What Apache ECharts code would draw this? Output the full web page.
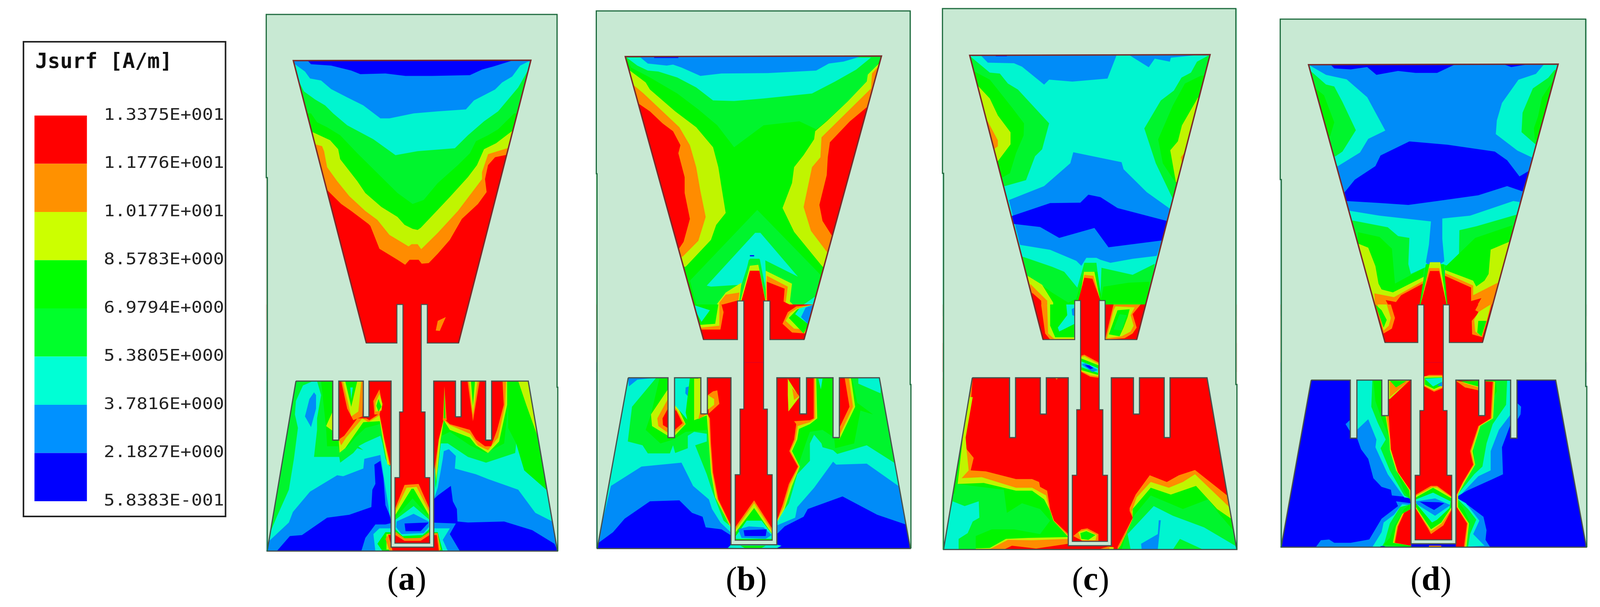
<!DOCTYPE html>
<html><head><meta charset="utf-8">
<style>html,body{margin:0;padding:0;background:#fff}#c{width:100vw;height:100vh}</style>
<script src="https://cdn.jsdelivr.net/npm/echarts@6/dist/echarts.min.js"></script>
</head><body><div id="c"></div>
<script>
// Level palette (index = contour level, from the legend, top to bottom)
const legendColors=['#ff0000','#ff9100','#ccff00','#00ff00','#00ff2b','#00ffd5','#0091ff','#0000ff'];
const fieldColors=['#ff0000','#ff8c00','#c0f500','#00f500','#00f52d','#00f5d0','#008cf8','#0000ff'];
const legendLabels=['1.3375E+001','1.1776E+001','1.0177E+001','8.5783E+000','6.9794E+000','5.3805E+000','3.7816E+000','2.1827E+000','5.8383E-001'];
const legendTitle='Jsurf [A/m]';
const captionLetters=['a','b','c','d'];

// Contours: [level, x,y, x,y, ...] per panel
const aUpper=[
[0,0,0,1568,0,1568,1568,0,1568],
[1,350,915,420,985,470,1020,555,1085,565,1095,610,1210,700,1265,738,1290,760,1265,805,1265,820,1285,855,1282,900,1235,960,1165,1020,1060,1100,985,1143,925,1135,860,1150,790,1185,750,1243,738,1500,738,1500,262,100,262,100,915],
[2,290,685,325,695,335,720,350,800,400,870,460,945,540,1020,600,1065,660,1140,755,1198,770,1187,800,1187,818,1212,900,1130,1000,1020,1120,860,1120,825,1150,735,1245,705,1500,705,1500,262,100,262,100,685],
[3,280,625,365,665,405,710,415,760,500,870,540,930,620,1000,700,1050,735,1090,775,1110,800,1115,815,1105,890,1025,960,950,1050,850,1095,790,1130,710,1190,680,1268,620,1500,620,1500,262,100,262,100,625],
[4,270,530,300,575,350,600,415,640,500,730,600,830,700,930,775,985,830,965,900,880,1000,790,1060,730,1090,670,1150,640,1200,610,1280,530,1500,530,1500,262,100,262,100,530],
[5,205,360,235,420,290,460,340,490,380,530,450,590,580,660,690,740,800,720,985,705,1050,640,1130,570,1200,520,1300,400,1345,320,1500,320,1500,262,100,262,100,360],
[6,185,280,240,320,265,355,320,365,370,408,450,450,530,490,615,555,660,555,780,530,900,520,1040,510,1080,465,1185,410,1220,375,1270,345,1310,290,1350,270,1500,270,1500,262,100,262,100,280],
[7,250,262,270,283,370,290,470,315,515,333,640,330,740,342,870,342,1060,338,1120,310,1175,295,1280,262]];
const aMiddle=[[0,0,0,1568,0,1568,350,0,350],[1,890,135,900,85,940,65,910,137]];
const aLower=[
[7,0,350,1568,350,1568,1568,0,1568],
[6,520,1278,540,1210,590,1140,640,1140,680,1130,860,1130,990,1135,960,1190,1010,1278],
[5,590,1278,580,1190,610,1160,960,1160,925,1220,950,1278],
[3,625,1278,600,1240,640,1180,900,1180,925,1278],
[2,645,1270,645,1190,900,1190,915,1270],
[1,660,1278,640,1215,655,1190,900,1185,912,1278],
[0,675,1275,655,1195,895,1195,905,1275],
[6,40,1290,100,1278,165,1200,225,1195,350,1105,460,1090,570,1050,575,960,590,930,585,830,615,810,630,900,640,1040,668,1110,668,397,40,397],
[5,40,1240,160,1130,180,1075,265,970,400,885,430,890,530,850,535,800,615,780,640,950,660,1080,668,1130,668,397,40,397],
[4,52,1278,60,1200,100,1100,160,960,185,800,205,640,190,570,195,500,230,420,280,397,195,397,40,397],
[6,240,580,270,635,295,540,295,470,285,455,262,490],
[4,300,397,320,470,300,590,300,650,285,790,410,790,415,820,480,770,500,745,530,755,505,735,540,715,615,680,625,720,640,800,660,840,668,830,668,397],
[3,320,397,345,640,350,735,405,735,410,765,450,740,490,690,540,640,612,620,625,680,640,750,660,830,668,800,668,397],
[2,345,630,375,560,378,655],
[2,408,710,412,768,440,745,530,610,612,605,625,690,650,830,668,830,668,397,408,397],
[1,408,700,420,730,445,690,525,590,555,610,610,575,632,700,660,835,668,830,668,397,408,397],
[0,408,700,435,680,500,590,545,590,560,600,610,565,635,700,664,830,668,397,408,397],
[1,420,397,450,540,480,600,525,580,530,397],
[2,428,397,470,580,505,555,520,397],
[3,440,397,470,530,500,397],
[5,465,430,470,490,478,430],
[1,610,440,580,500,585,570,610,570,625,520],
[2,610,465,590,510,590,555,620,550,625,515],
[3,605,490,595,525,605,555,620,530],
[6,880,1010,900,990,965,940,975,1020,995,1060,998,1125,1050,1130,1230,1125,1370,1170,1480,1240,1500,1278,1568,1278,1568,397,880,397],
[5,880,1010,900,950,925,800,930,760,955,750,990,785,985,850,1090,880,1150,905,1300,960,1385,1080,1470,1125,1500,1130,1500,397,880,397],
[4,890,960,900,860,915,720,950,720,1050,790,1140,820,1285,770,1290,720,1330,860,1440,960,1500,960,1500,397,880,397],
[3,888,950,900,850,920,680,960,660,1060,730,1140,770,1230,720,1250,520,1250,397,880,397],
[3,1250,397,1300,397,1390,660,1440,960,1330,860,1290,720,1250,640],
[2,1300,397,1350,397,1395,680,1340,520],
[2,892,920,915,700,930,600,960,650,1060,690,1090,730,1150,770,1205,710,1245,520,1245,397,880,397],
[1,888,900,905,700,930,600,960,625,1060,670,1100,730,1150,755,1200,690,1235,520,1240,397,880,397],
[0,880,880,905,700,930,590,960,620,1060,650,1090,700,1135,735,1165,735,1195,650,1228,520,1222,397,880,397],
[1,925,600,933,425,945,600],[3,930,590,933,445,938,590],
[1,1048,397,1075,605,1108,397],[2,1055,397,1075,570,1098,397],[3,1065,397,1075,525,1085,397],
[0,687,300,860,300,860,1237,687,1237],
[1,687,1060,735,935,805,930,860,1060,860,1237,687,1237],
[2,690,1070,745,950,795,945,858,1075,860,1237,687,1237],
[3,690,1090,770,955,780,955,855,1090,860,1237,687,1237],
[4,690,1105,775,1005,855,1100,860,1237,687,1237],
[5,690,1115,780,1045,858,1115,860,1237,687,1237],
[6,695,1125,780,1085,855,1125,860,1237,687,1237],
[7,735,1135,855,1130,815,1175,740,1175],
[5,690,1150,720,1190,830,1185,858,1150,860,1237,687,1237],
[3,690,1165,725,1200,825,1195,858,1165,860,1237,687,1237],
[1,690,1178,735,1212,815,1210,858,1180,860,1237,687,1237],
[0,690,1195,735,1225,815,1225,858,1195,860,1237,687,1237]];

const bUpper=[
[3,0,0,1568,0,1568,1568,0,1568],
[4,185,245,210,300,300,350,430,430,530,510,620,590,700,700,840,590,1010,570,1090,610,1135,570,1240,470,1330,380,1400,245],
[2,205,315,280,375,300,410,420,520,520,600,600,700,625,800,640,900,660,1030,615,1090,590,1165,470,1300,100,1300,100,315],
[1,225,390,270,430,360,520,440,600,490,690,520,800,540,920,565,1050,530,1170,455,1250,100,1250,100,390],
[0,245,480,300,520,360,580,410,620,445,690,435,730,465,850,465,930,490,1060,460,1175,438,1210,100,1210,100,480],
[2,1388,280,1335,335,1330,370,1240,470,1140,570,1085,620,1080,660,1030,740,985,800,975,880,930,1005,985,1125,1120,1300,1500,1300,1500,280],
[1,1380,300,1355,330,1350,405,1240,520,1115,650,1110,750,1070,800,1050,900,1030,1000,1065,1120,1140,1225,1500,1225,1500,300],
[0,1335,495,1250,570,1155,675,1145,750,1140,840,1105,990,1120,1070,1165,1145,1500,1145,1500,495],
[5,190,250,240,290,290,315,340,320,430,350,520,400,600,465,700,468,840,455,1070,430,1180,370,1280,310,1350,250],
[6,250,245,290,280,380,290,410,285,450,300,540,342,640,330,860,328,1090,315,1150,280,1220,270,1300,245],
[7,320,247,435,247,435,252,320,252],
[4,490,1370,810,1015,1110,1340,1060,1568,540,1568],
[5,570,1395,800,1130,825,1130,1003,1350,848,1268,855,1470,820,1260,775,1260,735,1390,590,1400],
[7,775,1242,795,1242,795,1248,775,1248],
[4,770,1265,822,1262,860,1470,860,1568,725,1568,725,1470],
[2,620,1485,660,1430,735,1380,725,1470,640,1568,620,1568],
[1,630,1480,660,1440,725,1430,720,1470,645,1568,635,1568],
[0,645,1490,715,1470,716,1568,645,1568],
[4,850,1320,975,1385,1000,1500,960,1568,850,1568],
[2,850,1320,975,1385,965,1475,995,1505,960,1568,850,1568],
[1,855,1345,955,1400,945,1480,995,1505,960,1568,850,1568],
[0,855,1375,940,1410,935,1475,990,1505,950,1568,860,1568],
[5,1085,1450,1010,1505,1040,1568,1060,1568],
[2,775,1295,815,1290,850,1470,850,1568,730,1568,730,1470],
[0,775,1320,820,1320,848,1470,848,1568,735,1568,735,1470]];
const bMiddle=[[0,0,0,1568,0,1568,350,0,350],
[1,500,0,640,0,650,40,635,130,548,130,500,130],
[2,500,0,630,0,630,110,545,120,500,120],
[3,500,0,625,0,610,100,545,105,500,105],
[5,500,0,585,30,545,90],
[1,1035,150,975,145,930,100,955,40,995,10,1080,0,1080,150],
[2,1035,130,985,125,945,85,965,45,1000,20,1080,0,1080,130],
[3,1030,150,960,70,1000,25,1080,0,1050,110],
[5,990,50,1010,20,1080,0,1050,100],
[6,1018,65,1040,15,1080,0,1050,100]];
const bLower=[
[7,0,300,1568,300,1568,1568,0,1568],
[6,50,1240,125,1180,180,1110,300,1020,440,1015,500,1080,550,1100,565,1155,640,1165,683,1195,683,380,50,380],
[5,80,1100,115,940,260,840,450,820,505,940,580,1010,595,1060,635,1130,683,1180,683,380,50,380],
[6,197,380,200,425,240,390,330,380],
[4,330,380,215,530,195,710,265,730,290,772,395,772,410,730,420,770,480,745,480,680,510,660,570,670,570,710,515,730,570,880,600,980,650,1120,683,1150,683,380],
[3,345,385,305,570,280,650,350,720,410,700,470,660,570,650,600,830,650,1090,683,1145,683,380],
[2,385,440,305,570,310,630,385,680,418,680,470,620,425,515,385,515],
[1,385,490,335,590,340,630,385,665,418,665,465,620,425,540,385,540],
[0,385,540,360,590,362,625,385,640,418,650,455,615,425,550],
[5,417,380,495,380,500,560,480,600,417,520],[6,470,430,485,425,480,475,468,460],
[3,490,380,510,380,510,590,480,610,470,560],
[2,510,385,530,385,540,567,510,600,510,500],
[0,530,385,542,385,542,567,530,567],
[2,510,600,570,575,580,720,590,870,610,1000,683,1155,685,380,530,380],
[1,530,595,573,567,580,590,585,720,595,870,620,1010,683,1150,685,380,573,380],
[0,573,380,573,567,585,590,590,720,600,870,625,1010,683,1140,685,380],
[1,600,450,620,445,630,515,580,565,575,470],[2,575,470,605,490,605,520,575,545],
[6,903,1190,940,1150,1030,1100,1050,1060,1215,995,1380,1090,1515,1140,1545,1265,1545,380,903,380],
[5,903,1145,990,1105,1000,1050,1080,950,1170,815,1185,830,1330,825,1480,940,1545,1000,1545,380,903,380],
[4,903,1120,960,1030,1000,880,1060,810,1060,720,1080,675,1115,720,1120,740,1170,755,1190,775,1330,730,1460,820,1545,820,1545,380,903,380],
[3,903,1090,970,960,1000,850,1040,720,1060,660,1120,650,1175,690,1180,745,1270,720,1300,550,1360,570,1285,510,1260,380,903,380],
[5,1290,380,1290,410,1395,460,1400,380],
[5,1100,385,1120,385,1112,440],
[2,903,1130,940,1060,975,940,1012,840,975,760,1000,700,1008,645,1060,620,1095,590,1090,380,903,380],
[1,903,1125,935,1050,965,935,1008,840,968,760,992,700,1002,630,1060,610,1085,590,1085,380,903,380],
[0,903,1120,930,1040,960,930,1003,840,962,760,985,700,995,620,985,605,1060,600,1078,590,1078,380,903,380],
[2,955,385,1010,480,958,555,955,470],[1,965,420,1010,475,985,495,975,430],
[2,1200,380,1255,380,1275,530,1200,700],[1,1200,380,1245,380,1265,530,1200,680],[0,1200,380,1225,380,1248,530,1200,640],
[0,705,300,881,300,881,1222,705,1222],
[1,705,1155,795,1015,880,1160,880,1222,705,1222],
[2,705,1170,795,1030,880,1175,880,1222,705,1222],
[3,708,1180,795,1055,880,1190,880,1222,705,1222],
[5,708,1200,760,1120,830,1120,880,1190,880,1215,708,1215],
[6,720,1165,770,1150,840,1155,878,1195,850,1215,735,1210],
[7,745,1170,855,1165,850,1200,750,1200],
[5,670,1262,685,1245,903,1245,925,1250,900,1265],
[3,730,1250,850,1250,830,1262,750,1262]];

const cUpper=[
[5,0,0,1568,0,1568,1568,0,1568],
[6,245,258,280,295,410,298,450,315,560,405,585,380,700,390,875,375,920,258],
[6,985,258,1080,318,1110,275,1185,290,1190,270,1310,258],
[7,320,258,375,258,375,263,320,263],
[4,195,265,290,345,340,350,380,400,430,430,585,600,550,730,515,765,470,885,365,915,100,915,100,265],
[3,215,340,290,380,400,520,460,600,458,660,420,750,390,850,355,870,100,870,100,340],
[2,230,410,290,475,330,560,393,645,393,705,330,790,100,790,100,410],
[1,280,590,330,685,330,715,310,730,100,730,100,590],
[4,1375,260,1320,290,1290,345,1243,370,1205,435,1140,485,1058,625,1115,800,1200,980,1500,980,1500,260],
[3,1340,360,1260,400,1200,510,1127,680,1150,800,1215,900,1500,900,1500,360],
[2,1325,470,1245,610,1225,690,1187,735,1215,895,1500,895,1500,470],
[1,1255,750,1240,770,1245,800,1500,800,1500,750],
[6,385,985,560,915,690,800,705,745,945,795,955,830,1070,945,1185,1028,1145,1190,1120,1265,1000,1280,890,1300,840,1285,820,1275,770,1275,745,1315,720,1290,590,1235,440,1210],
[7,400,1065,590,1000,740,998,780,958,840,970,925,1025,1170,1090,1145,1188,880,1222,810,1125,635,1175,540,1120,410,1105],
[4,450,1268,600,1320,660,1345,725,1425,760,1300,820,1300,840,1470,845,1325,1000,1360,1110,1305,1070,1568,520,1568],
[3,490,1370,600,1450,680,1500,720,1480,758,1345,825,1345,845,1480,855,1420,980,1400,1085,1395,1060,1568,530,1568],
[2,478,1365,550,1410,605,1500,605,1568,500,1568],
[1,490,1405,575,1490,578,1568,500,1568],
[0,500,1450,545,1490,550,1568,500,1568],
[2,758,1345,810,1345,835,1470,840,1568,735,1568,735,1490],
[1,760,1360,805,1365,835,1470,840,1568,732,1568,732,1490],
[0,760,1375,800,1380,840,1490,840,1568,730,1568,730,1490]];
const cMiddle=[[0,0,0,1568,0,1568,350,0,350],
[1,545,0,712,0,712,182,590,182,565,150],
[2,575,0,712,0,712,178,610,178,580,150],
[3,590,0,712,0,712,170,615,170,590,110],
[5,670,0,712,0,712,100,635,140,628,120,675,55],
[6,697,25,712,15,712,60,700,55],
[1,863,182,905,0,1040,0,1000,50,1020,120,1000,150,960,175],
[2,872,175,905,30,915,10,1010,15,990,55,1005,110,990,140,945,165],
[3,882,155,925,30,985,25,975,65,955,120,935,165],
[4,905,130,935,50,970,55,945,135]];
const cLower=[
[0,0,200,1568,200,1568,1568,0,1568],
[1,205,380,195,520,165,680,175,750,210,795,195,860,270,865,420,905,500,905,535,920,540,945,575,965,590,1060,610,1120,680,1190,680,1240,520,1265,400,1250,360,1270,50,1270,50,380],
[2,205,480,170,690,175,760,185,860,150,900,250,895,420,950,500,950,570,990,585,1060,600,1115,680,1200,680,1215,500,1222,380,1220,290,1268,50,1270,50,480],
[3,155,700,130,930,260,925,420,965,500,965,560,1010,590,1070,605,1120,680,1205,480,1210,370,1215,290,1262,50,1270,50,700],
[4,115,980,125,930,360,960,375,1080,450,1030,540,1060,590,1120,540,1190,410,1165,300,1165,220,1200,220,1270,50,1270,50,980],
[5,105,1020,165,1045,235,1020,238,1105,205,1125,180,1185,135,1215,135,1270,50,1270],
[1,925,1258,1000,1105,985,1070,985,1055,1015,985,1085,885,1170,920,1230,885,1310,858,1470,990,1530,1040,1530,1280,925,1280],
[2,935,1258,1005,1110,995,1075,1020,1000,1090,920,1180,950,1250,920,1310,880,1480,1050,1530,1100,1530,1280,935,1280],
[3,940,1250,1000,1120,1000,1060,1090,950,1190,985,1315,940,1420,1060,1490,1110,1530,1150,1530,1280,925,1270],
[4,975,1170,1010,1090,1090,990,1250,1060,1375,1010,1430,1085,1500,1170,1530,1170,1530,1280,945,1270],
[5,975,1190,1105,1045,1200,1095,1355,1155,1510,1250,1530,1270,1350,1270,1235,1215,1200,1270,990,1270],
[6,1042,1240,1125,1190,1130,1118,1140,1118,1125,1270,1045,1270],
[1,840,1265,880,1255,905,1258,905,1270],
[2,885,1258,905,1258,905,1270,885,1270],
[1,615,380,630,380,622,390],
[1,745,265,760,260,830,300,830,380,790,375,745,350],
[2,745,272,760,268,830,308,830,372,790,367,745,345],
[3,745,280,830,315,828,365,745,340],
[5,745,295,828,330,828,355,745,325],
[6,745,310,765,305,828,340,800,350],
[7,762,315,785,315,805,330,790,335],
[1,705,1200,745,1165,775,1160,830,1190,830,1225,750,1225],
[2,730,1180,770,1168,822,1195,815,1222,745,1222],
[3,740,1185,770,1175,815,1195,780,1220,745,1215]];

const dUpper=[
[6,0,0,1568,0,1568,1568,0,1568],
[7,280,270,300,292,380,297,460,285,505,325,610,305,695,315,800,315,890,270],
[7,1115,268,1160,285,1260,268],
[5,178,275,260,325,360,348,460,440,548,612,465,655,425,725,318,795,100,795,100,275],
[4,185,305,260,375,300,385,340,465,405,610,340,720,305,745,100,745,100,305],
[3,215,400,250,430,300,570,280,640,100,640,100,400],
[5,1320,270,1280,320,1195,350,1115,470,1090,560,1085,630,1190,715,1260,750,1500,750,1500,270],
[4,1370,300,1340,340,1265,395,1215,520,1210,620,1280,685,1500,685,1500,300],
[3,1372,340,1310,440,1290,540,1270,600,1275,660,1500,660,1500,340],
[7,350,930,400,865,500,795,525,740,665,668,850,685,1080,720,1140,765,1200,848,1245,820,1215,925,1140,898,1000,945,800,975,660,995,520,985,360,975],
[5,375,1025,520,1050,770,1080,760,1200,745,1290,755,1305,720,1400,500,1568,400,1568,300,1025],
[5,825,1065,960,1050,1170,975,1200,980,1150,1568,860,1568,840,1330,815,1300,835,1285,825,1170],
[4,388,1075,560,1110,610,1155,665,1165,660,1300,672,1350,755,1310,720,1400,500,1568,400,1568],
[3,415,1135,520,1160,580,1220,595,1400,735,1320,725,1568,400,1568],
[2,418,1195,465,1215,500,1310,515,1400,530,1430,585,1445,735,1365,725,1568,400,1568],
[1,495,1450,590,1470,735,1385,720,1568,500,1568],
[0,550,1485,600,1495,625,1460,730,1400,720,1568,590,1568],
[4,908,1125,990,1105,1185,1045,1160,1568,860,1568,838,1340,830,1300,905,1330],
[3,985,1165,1165,1100,1150,1568,850,1568,838,1315],
[2,1150,1185,1060,1225,1050,1350,1030,1385,990,1415,975,1385,838,1330,838,1568,1150,1568],
[1,838,1345,975,1410,975,1460,1095,1395,1080,1568,838,1568],
[0,838,1360,965,1420,965,1490,1015,1475,985,1530,1000,1545,985,1568,838,1568],
[3,745,1300,832,1300,850,1505,850,1568,715,1568,715,1505],
[2,765,1290,815,1290,845,1500,845,1568,720,1568,720,1505],
[1,760,1320,810,1320,845,1500,845,1568,720,1568,720,1505],
[0,765,1335,810,1335,845,1505,845,1568,720,1568,720,1505]];
const dMiddle=[[0,0,0,1568,0,1568,350,0,350],
[1,500,0,575,0,595,70,580,125,540,150],
[2,510,0,555,0,575,70,565,110,540,135],
[3,500,0,530,30,555,80,540,120],
[1,1000,0,985,30,1003,40,968,85,970,155,1020,170,1065,0],
[2,1060,0,1000,40,980,80,985,140,1015,165,1040,90],
[3,1000,85,1040,85,1015,165,995,145]];
const dLower=[
[7,0,300,1568,300,1568,1568,0,1568],
[6,355,620,375,600,378,660],
[6,410,392,410,690,430,750,465,800,490,900,530,945,575,960,580,990,673,1000,673,1030,600,1020,610,1045,530,1110,470,1218,380,1235,300,1235,275,1218,235,1222,210,1258,673,1258,673,392],
[5,410,392,410,650,465,595,505,700,500,740,560,880,640,1000,673,1005,673,1040,630,1035,590,1090,540,1130,530,1180,485,1258,673,1258,673,392],
[4,485,392,480,530,510,610,550,700,525,745,570,860,640,990,673,1010,673,1035,620,1050,570,1135,545,1230,530,1258,673,1258,673,392],
[3,490,392,500,500,530,590,570,700,570,730,590,830,640,970,673,1015,673,1030,640,1060,590,1150,570,1210,540,1245,673,1258,673,392],
[2,548,570,568,700,570,755,600,860,665,965,673,1060,630,1085,600,1150,585,1235,673,1250,673,392,565,392],
[1,552,575,572,700,574,752,606,866,668,965,672,1060,635,1082,605,1150,590,1235,673,1250,673,392,565,392],
[0,565,580,575,750,610,870,672,965,672,1060,640,1080,610,1150,595,1235,673,1250,673,392,560,392],
[2,565,392,668,392,570,490,565,490],[1,570,400,665,395,570,480],[3,570,395,650,397,600,430],
[6,891,392,1188,392,1188,510,1208,530,1205,570,1188,600,1157,620,1115,740,1120,880,1070,905,945,965,891,1000,920,1025,950,1040,1025,1100,1040,1170,1035,1220,1058,1258,891,1258],
[5,891,392,1157,392,1157,570,1100,650,1060,760,1060,860,1000,890,920,980,891,1000,940,1030,1005,1120,975,1190,1030,1250,891,1258],
[4,891,392,1140,392,1135,520,1070,620,1040,720,1020,840,980,880,900,985,891,1000,950,1060,990,1115,960,1190,950,1258,891,1258],
[3,891,392,1085,392,1090,450,1000,630,975,740,985,830,930,930,897,985,891,1005,930,1060,960,1130,940,1258,891,1258],
[2,891,392,1082,400,1072,590,1010,630,972,760,985,830,932,925,902,985,902,1050,955,1135,942,1258,891,1258],
[1,891,392,1076,400,1066,590,1005,630,966,760,980,830,928,922,898,985,898,1050,950,1135,936,1258,891,1258],
[0,891,392,1070,400,1060,590,1000,630,960,760,975,830,925,920,895,985,895,1050,945,1135,930,1258,891,1258],
[2,891,395,1002,420,1002,445,930,425],[1,893,395,1002,430,1002,445,935,430],[3,915,397,1000,397,1000,425,950,410],
[1,760,1250,820,1250,820,1258,760,1258],
[7,525,1252,545,1252,545,1258,525,1258],
[0,693,300,871,300,871,1220,693,1220],
[1,737,375,760,365,825,365,825,435,785,452,737,425],
[2,737,372,825,372,825,428,785,445,737,420],
[3,740,380,825,378,825,420,785,438,740,415],
[5,740,385,780,425,825,400,825,380],
[6,800,420,825,400,825,425],
[1,697,985,770,940,800,940,870,995,870,1065,830,1145,770,1190,755,1160,697,1060],
[2,697,992,775,948,800,948,870,1000,870,1058,822,1135,770,1175,697,1055],
[3,697,1000,780,950,870,1005,870,1050,820,1130,770,1165,697,1050],
[5,697,1010,780,975,865,1020,860,1055,800,1115,775,1130,697,1030],
[6,697,1020,790,1005,865,1040,790,1095,700,1035],
[7,715,1022,810,1025,835,1030,785,1065,750,1045]];

// Metal outlines, upper-crop corners and lower-crop vertices
const aCorners=[182,265,1363,263];
const aFeed=[1003,200,848,200,848,0,818,0,818,557,837,557,837,897,860,897,860,1237,687,1237,687,897,710,897,710,557,727,557,727,0,697,0,697,200,545,200];
const aGround=[195,397,378,397,378,703,408,703,408,397,530,397,530,582,558,582,558,397,668,397,668,1258,880,1258,880,397,988,397,988,582,1016,582,1016,397,1138,397,1138,703,1168,703,1168,397,1350,397,1495,1278,52,1278];
const bCorners=[183,245,1400,242];
const bFeed=[1032,182,870,182,870,-18,840,-18,840,542,858,542,858,882,881,882,881,1222,705,1222,705,882,728,882,728,542,746,542,746,-18,716,-18,716,182,555,182];
const bGround=[197,380,386,380,386,690,417,690,417,380,542,380,542,567,573,567,573,380,685,380,685,1245,903,1245,903,380,1012,380,1012,567,1044,567,1044,380,1170,380,1170,690,1200,690,1200,380,1390,380,1537,1265,50,1265];
const cCorners=[190,258,1385,255];
const cFeed=[1020,182,863,182,863,-20,834,-20,834,545,852,545,852,885,875,885,875,1228,700,1228,700,885,722,885,722,545,741,545,741,-20,712,-20,712,182,555,182];
const cGround=[203,380,388,380,388,690,418,690,418,380,541,380,541,568,571,568,571,380,680,380,680,1250,894,1250,894,380,1004,380,1004,568,1034,568,1034,380,1157,380,1157,690,1186,690,1186,380,1370,380,1518,1270,60,1270];
const dCorners=[175,273,1388,270];
const dFeed=[1020,197,859,197,859,2,830,2,830,550,848,550,848,885,871,885,871,1220,693,1220,693,885,716,885,716,550,735,550,735,2,706,2,706,197,547,197];
const dGround=[188,392,378,392,378,693,410,693,410,392,531,392,531,576,563,576,563,392,673,392,673,1240,891,1240,891,392,1002,392,1002,576,1032,576,1032,392,1157,392,1157,693,1188,693,1188,392,1376,392,1525,1258,42,1258];

// Reading frames of each panel: crop origin + magnification, and board extents in image pixels
const frames=[
 {x0:700,fx:1.823,y1:20,fy1:1.96,fy2:2.023,L:726,R:1519,T:37,B:1412,jogY1:455,jogY2:992,dl:3,dr:2},
 {x0:1600,fx:1.742,y1:20,fy1:1.96,fy2:2.023,L:1626,R:2482,T:28,B:1405,jogY1:445,jogY2:985,dl:2,dr:2},
 {x0:2540,fx:1.823,y1:10,fy1:1.96,fy2:2.023,L:2570,R:3370,T:22,B:1408,jogY1:444,jogY2:985,dl:3,dr:3},
 {x0:3470,fx:1.782,y1:30,fy1:2.01,fy2:2.023,L:3491,R:4324,T:49,B:1402,jogY1:460,jogY2:990,dl:3,dr:3}];
const panels=[
 {u:aUpper,m:aMiddle,l:aLower,corners:aCorners,feed:aFeed,ground:aGround},
 {u:bUpper,m:bMiddle,l:bLower,corners:bCorners,feed:bFeed,ground:bGround},
 {u:cUpper,m:cMiddle,l:cLower,corners:cCorners,feed:cFeed,ground:cGround},
 {u:dUpper,m:dMiddle,l:dLower,corners:dCorners,feed:dFeed,ground:dGround}];
const captionX=[1109,2035,2974,3902], captionY=1489;
const boardColor='#c8e9d3', boardEdge='#1e6b3e', metalEdge='#46504c', patchEdge='#7a2a2a';

function toPts(f,flat,crop){
  const out=[];
  for(let i=0;i<flat.length;i+=2){
    const x=f.x0+flat[i]/f.fx;
    const y=crop===1? f.y1+flat[i+1]/f.fy1 : 780+flat[i+1]/f.fy2;
    out.push([x,y]);
  }
  return out;
}
function clampPts(f,pts){return pts.map(p=>[Math.min(f.R+f.dr,Math.max(f.L,p[0])),Math.min(f.B,Math.max(f.T,p[1]))]);}
function area(p){let a=0;for(let i=0;i<p.length;i++){const q=p[(i+1)%p.length];a+=p[i][0]*q[1]-q[0]*p[i][1];}return a;}
function oriented(p,positive){return (area(p)>0)===positive?p:p.slice().reverse();}

const marks=[];
panels.forEach((p,i)=>{
  const f=frames[i];
  const board=[[f.L,f.T],[f.R+f.dr,f.T],[f.R+f.dr,f.B],[f.L,f.B]];
  marks.push({k:'polygon',pts:board,fill:boardColor});
  const add=(arr,crop)=>arr.forEach(r=>marks.push({k:'polygon',pts:clampPts(f,toPts(f,r.slice(1),crop)),fill:fieldColors[r[0]]}));
  add(p.u,1);add(p.m,2);add(p.l,2);
  const corners=toPts(f,p.corners,1), feed=toPts(f,p.feed,2), ground=toPts(f,p.ground,2);
  const top=corners.concat(feed);
  const outer=oriented(board,true), h1=oriented(top,false), h2=oriented(ground,false);
  const key=[outer[0]].concat(h1,[h1[0]],h2,[h2[0]],[h1[0]],[outer[0]],outer.slice(1));
  marks.push({k:'polygon',pts:key,fill:boardColor});
  marks.push({k:'polyline',pts:top.concat([top[0]]),stroke:metalEdge,w:2.5});
  marks.push({k:'polyline',pts:ground.concat([ground[0]]),stroke:metalEdge,w:3});
  marks.push({k:'polyline',pts:[top[top.length-1],top[0],top[1],top[2]],stroke:patchEdge,w:3.5});
  marks.push({k:'polyline',pts:[[f.L+f.dl,f.B],[f.L+f.dl,f.jogY1],[f.L,f.jogY1],[f.L,f.T],[f.R,f.T],[f.R,f.jogY2],[f.R+f.dr,f.jogY2],[f.R+f.dr,f.B]],stroke:boardEdge,w:3});
  marks.push({k:'caption',x:captionX[i],y:captionY,letter:captionLetters[i]});
});
// Legend
const boxL=64,boxR=615,boxT=107,boxB=1323,barL=94,barR=237,barT=296,barB=1284,labelX=283;
const step=(barB-barT)/legendColors.length;
marks.push({k:'polygon',pts:[[boxL,boxT],[boxR,boxT],[boxR,boxB],[boxL,boxB]],fill:'#fff',stroke:'#222',w:4});
legendColors.forEach((c,i)=>marks.push({k:'polygon',pts:[[barL,barT+i*step],[barR,barT+i*step],[barR,barT+(i+1)*step],[barL,barT+(i+1)*step]],fill:c}));
legendLabels.forEach((t,i)=>marks.push({k:'label',x:labelX,y:barT+i*step,text:t}));
marks.push({k:'title',x:96,y:160,text:legendTitle});

const chart=echarts.init(document.getElementById('c'),null,{renderer:'canvas'});
chart.setOption({
  animation:false,
  backgroundColor:'#ffffff',
  grid:{left:0,right:0,top:0,bottom:0},
  xAxis:{type:'value',min:0,max:4363,show:false},
  yAxis:{type:'value',min:0,max:1555,inverse:true,show:false},
  series:[{
    type:'custom',coordinateSystem:'cartesian2d',clip:false,silent:true,
    data:marks.map((m,i)=>[i,0]),
    renderItem(params,api){
      const m=marks[params.dataIndex];
      if(m.k==='polygon'){
        return {type:'polygon',shape:{points:m.pts.map(p=>api.coord(p))},
          style:{fill:m.fill,stroke:m.stroke||null,lineWidth:m.w||0}};
      }
      if(m.k==='polyline'){
        return {type:'polyline',shape:{points:m.pts.map(p=>api.coord(p))},
          style:{fill:null,stroke:m.stroke,lineWidth:m.w,lineJoin:'miter'}};
      }
      const c=api.coord([m.x,m.y]);
      if(m.k==='label'){
        return {type:'text',x:c[0],y:c[1],scaleY:0.88,style:{x:0,y:0,text:m.text,fill:'#222',fontFamily:'"DejaVu Sans Mono",monospace',fontSize:46.5,align:'left',verticalAlign:'middle'}};
      }
      if(m.k==='title'){
        return {type:'text',style:{x:c[0],y:c[1],text:m.text,fill:'#111',fontFamily:'"DejaVu Sans Mono",monospace',fontWeight:'bold',fontSize:53,align:'left',verticalAlign:'middle'}};
      }
      return {type:'text',style:{x:c[0],y:c[1],text:'{n|(}{b|'+m.letter+'}{n|)}',align:'center',verticalAlign:'middle',
        rich:{n:{fontFamily:'"Liberation Serif",serif',fontSize:86,fill:'#000'},b:{fontFamily:'"Liberation Serif",serif',fontWeight:'bold',fontSize:86,fill:'#000'}}}};
    }
  }]
});
</script></body></html>
